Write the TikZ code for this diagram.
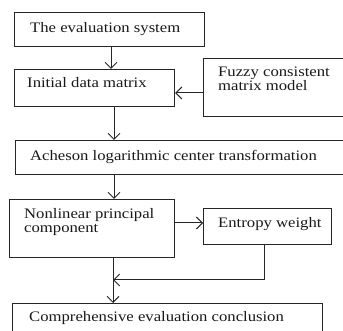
\documentclass[tikz,border=0pt]{standalone}
\usepackage{fontspec}
\setmainfont{Liberation Serif}[FakeStretch=1.15]
\usetikzlibrary{arrows.meta}
\begin{document}
\begin{tikzpicture}[x=1pt,y=-1pt,
  box/.style={draw=black!85, line width=1.1pt, inner sep=0pt, anchor=north west},
  txt/.style={anchor=base west, inner sep=0pt, font=\fontsize{14.5}{15}\selectfont, text=black!90},
  conn/.style={draw=black!85, line width=1pt},
  arr/.style={conn, -{Straight Barb[length=6pt,width=12pt]}}]
\useasboundingbox (0,0) rectangle (343,331);
\clip (0,0) rectangle (343,331);
% boxes
\node[box, minimum width=190, minimum height=34] (b1) at (14,12) {};
\node[box, minimum width=160, minimum height=37] (b2) at (14,69) {};
\node[box, minimum width=150, minimum height=58] (fz) at (203,58) {};
\node[box, minimum width=335, minimum height=34] (ach) at (15,140) {};
\node[box, minimum width=165, minimum height=58] (nl) at (9,199) {};
\node[box, minimum width=128, minimum height=36] (en) at (203,208) {};
\node[box, minimum width=310, minimum height=40] (cc) at (12,303) {};
% texts
\node[txt] (t1) at (30,33) {The evaluation system};
\node[txt] (t2) at (27,88) {Initial data matrix};
\node[txt] (t3a) at (218,77) {Fuzzy consistent};
\node[txt] (t3b) at (218,91) {matrix model};
\node[txt] (t4) at (30,161) {Acheson logarithmic center transformation};
\node[txt] (t5a) at (24,219) {Nonlinear principal};
\node[txt] (t5b) at (24,233) {component};
\node[txt] (t6) at (218,228) {Entropy weight};
\node[txt] (t7) at (29,322) {Comprehensive evaluation conclusion};
% connectors
\coordinate (j) at (113,280);
\draw[arr] (b1.south -| 111,0) -- (b2.north -| 111,0);
\draw[arr] (fz.west |- 0,93) -- (b2.east |- 0,93);
\draw[arr] (b2.south -| 114,0) -- (ach.north -| 114,0);
\draw[arr] (ach.south -| 114,0) -- (nl.north -| 114,0);
\draw[arr] (nl.east |- 0,223) -- (en.west |- 0,223);
\draw[arr] (en.south -| 264,0) |- (j);
\draw[arr] (nl.south -| 113,0) -- (cc.north -| 113,0);
\end{tikzpicture}
\end{document}
